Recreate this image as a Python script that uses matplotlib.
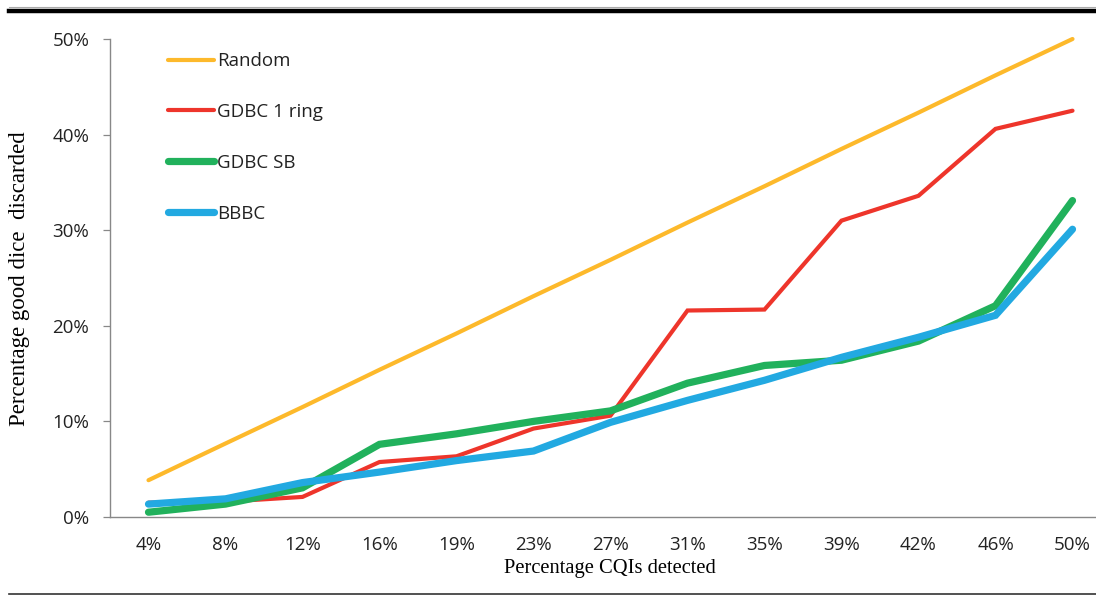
import matplotlib
matplotlib.use("Agg")
import matplotlib.pyplot as plt
from matplotlib.lines import Line2D
from matplotlib.ticker import FuncFormatter

# Share of CQIs detected (category axis)
categories = ["4%", "8%", "12%", "16%", "19%", "23%", "27%",
              "31%", "35%", "39%", "42%", "46%", "50%"]

# Percentage of good dice discarded for each method
random_pct = [3.85, 7.69, 11.5, 15.4, 19.2, 23.1, 26.9,
              30.8, 34.6, 38.5, 42.3, 46.2, 50.0]
gdbc_1ring = [1.5, 1.6, 2.1, 5.75, 6.35, 9.25, 10.6,
              21.6, 21.7, 31.0, 33.6, 40.6, 42.5]
gdbc_sb = [0.5, 1.35, 3.05, 7.6, 8.7, 10.0, 11.1,
           14.0, 15.85, 16.4, 18.4, 22.1, 33.1]
bbbc = [1.35, 1.9, 3.6, 4.7, 5.9, 6.9, 9.9,
        12.2, 14.3, 16.7, 18.8, 21.1, 30.1]

y_ticks = [0, 10, 20, 30, 40, 50]

W, H = 1096, 595
fig = plt.figure(figsize=(W / 100, H / 100), dpi=100)
fig.patch.set_facecolor("white")

# plot area in pixel terms: y axis at x=110, categories spaced ~77 px
ax = fig.add_axes([110 / W, (H - 517) / H, (1111 - 110) / W, (517 - 39) / H])

x = list(range(len(categories)))
series = [
    ("Random", random_pct, "#FDB92B", 3.0),
    ("GDBC 1 ring", gdbc_1ring, "#EE352B", 3.0),
    ("GDBC SB", gdbc_sb, "#21B15C", 5.2),
    ("BBBC", bbbc, "#22A9E1", 5.2),
]
for name, vals, color, lw in series:
    ax.plot(x, vals, color=color, lw=lw, solid_capstyle="round",
            solid_joinstyle="miter", label=name, clip_on=False)

ax.set_xlim(-0.5, 12.5)
ax.set_ylim(0, 50)
ax.set_xticks(x)
ax.set_xticklabels(categories)
ax.set_yticks(y_ticks)
ax.yaxis.set_major_formatter(FuncFormatter(lambda v, p: f"{v:.0f}%"))

tick_font = dict(family="Open Sans", size=13.5, color="#222222")
for lab in ax.get_xticklabels() + ax.get_yticklabels():
    lab.set_fontfamily(tick_font["family"])
    lab.set_fontsize(tick_font["size"])
    lab.set_color(tick_font["color"])

ax.tick_params(axis="x", length=0, pad=14)
ax.tick_params(axis="y", length=5, width=0.9, color="#888888", direction="out", pad=10)

for side in ("top", "right"):
    ax.spines[side].set_visible(False)
for side in ("left", "bottom"):
    ax.spines[side].set_color("#888888")
    ax.spines[side].set_linewidth(1.0)

# axis titles
fig.text(610 / W, 1 - 569 / H, "Percentage CQIs detected", ha="center", va="center",
         family="Liberation Serif", size=14.8, color="black")
fig.text(20 / W, 1 - 279 / H, "Percentage good dice  discarded", ha="center",
         va="center", rotation=90, family="Liberation Serif", size=16.5, color="black")

# legend
leg = ax.legend(loc="upper left", bbox_to_anchor=((155 - 110) / (1111 - 110), 1.0),
                frameon=False, handlelength=2.45, handletextpad=0.15,
                labelspacing=1.75, borderaxespad=0.3,
                prop=dict(family="Open Sans", size=13.5))
for t in leg.get_texts():
    t.set_color("#222222")

# page rules above and below the chart
fig.add_artist(Line2D([9 / W, 1], [1 - 7.3 / H] * 2, color="#AAAAAA", lw=0.8))
fig.add_artist(Line2D([9 / W, 1], [1 - 10.8 / H] * 2, color="black", lw=3.2))
fig.add_artist(Line2D([9 / W, 1], [1 - 594 / H] * 2, color="#333333", lw=1.2))

fig.savefig("out.png", dpi=100, facecolor="white")
